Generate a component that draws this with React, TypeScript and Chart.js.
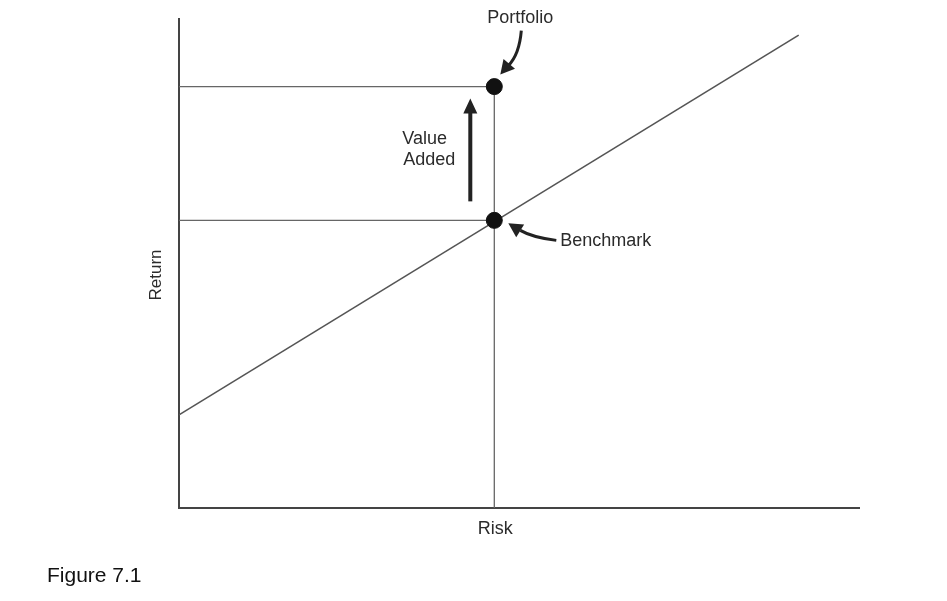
import React, { useEffect, useRef } from "react";
import { Chart, registerables } from "chart.js";

Chart.register(...registerables);

// Security market line (risk vs return)
const marketLine = [
  { x: 0, y: 1.9 },
  { x: 9.1, y: 9.65 },
];
const benchmark = { x: 4.63, y: 5.87 };
const portfolio = { x: 4.63, y: 8.6 };

const xAxisTitle = "Risk";
const yAxisTitle = "Return";
const portfolioLabel = "Portfolio";
const benchmarkLabel = "Benchmark";
const valueAddedLabel = ["Value", "Added"];
const figureCaption = "Figure 7.1";

const LINE = "#555555";
const TEXT = "#2b2b2b";

function arrowHead(ctx: CanvasRenderingContext2D, fromX: number, fromY: number, tipX: number, tipY: number, len: number, width: number) {
  const ang = Math.atan2(tipY - fromY, tipX - fromX);
  const bx = tipX - Math.cos(ang) * len;
  const by = tipY - Math.sin(ang) * len;
  const nx = -Math.sin(ang) * width / 2;
  const ny = Math.cos(ang) * width / 2;
  ctx.beginPath();
  ctx.moveTo(tipX, tipY);
  ctx.lineTo(bx + nx, by + ny);
  ctx.lineTo(bx - nx, by - ny);
  ctx.closePath();
  ctx.fill();
}

const decorations = {
  id: "decorations",
  beforeDatasetsDraw(chart: any) {
    const { ctx, scales } = chart;
    const xs = scales.x;
    const ys = scales.y;
    const x0 = xs.getPixelForValue(xs.min);
    const x1 = xs.getPixelForValue(xs.max);
    const y0 = ys.getPixelForValue(ys.min);
    const y1 = ys.getPixelForValue(ys.max);
    ctx.save();
    ctx.strokeStyle = "#444444";
    ctx.lineWidth = 2;
    ctx.beginPath();
    ctx.moveTo(x0, y1);
    ctx.lineTo(x0, y0);
    ctx.lineTo(x1, y0);
    ctx.stroke();
    ctx.restore();
  },
  afterDatasetsDraw(chart: any) {
    const { ctx, scales } = chart;
    const xs = scales.x;
    const ys = scales.y;
    const x0 = xs.getPixelForValue(xs.min);
    const y0 = ys.getPixelForValue(ys.min);
    const px = xs.getPixelForValue(portfolio.x);
    const py = ys.getPixelForValue(portfolio.y);
    const bx = xs.getPixelForValue(benchmark.x);
    const by = ys.getPixelForValue(benchmark.y);

    ctx.save();
    ctx.fillStyle = TEXT;
    ctx.font = "18px 'Liberation Sans', Arial, sans-serif";
    ctx.textBaseline = "middle";

    // Axis titles
    ctx.textAlign = "center";
    ctx.fillText(xAxisTitle, px + 1, y0 + 21);
    ctx.save();
    ctx.translate(x0 - 23, (ys.top + y0) / 2 + 12);
    ctx.rotate(-Math.PI / 2);
    ctx.font = "17px 'Liberation Sans', Arial, sans-serif";
    ctx.fillText(yAxisTitle, 0, 0);
    ctx.restore();

    // Portfolio label + curved arrow
    ctx.fillText(portfolioLabel, px + 26, py - 69);
    ctx.strokeStyle = "#222222";
    ctx.fillStyle = "#222222";
    ctx.lineWidth = 3;
    ctx.beginPath();
    ctx.moveTo(px + 27, py - 56);
    ctx.quadraticCurveTo(px + 25, py - 32, px + 14, py - 21);
    ctx.stroke();
    arrowHead(ctx, px + 16, py - 24, px + 6, py - 12, 14, 15);

    // Benchmark label + curved arrow
    ctx.fillStyle = TEXT;
    ctx.textAlign = "left";
    ctx.fillText(benchmarkLabel, bx + 66, by + 21);
    ctx.strokeStyle = "#222222";
    ctx.fillStyle = "#222222";
    ctx.beginPath();
    ctx.moveTo(bx + 62, by + 20);
    ctx.quadraticCurveTo(bx + 38, by + 17, bx + 26, by + 10);
    ctx.stroke();
    arrowHead(ctx, bx + 30, by + 13, bx + 14, by + 3, 14, 15);

    // Value added arrow
    const ax = bx - 24;
    ctx.lineWidth = 4;
    ctx.beginPath();
    ctx.moveTo(ax, by - 19);
    ctx.lineTo(ax, py + 24);
    ctx.stroke();
    arrowHead(ctx, ax, py + 40, ax, py + 12, 15, 14);

    ctx.fillStyle = TEXT;
    ctx.textAlign = "left";
    ctx.fillText(valueAddedLabel[0], ax - 68, py + 52);
    ctx.fillText(valueAddedLabel[1], ax - 67, py + 73);

    // Caption
    ctx.fillStyle = "#111111";
    ctx.font = "21px 'Liberation Sans', Arial, sans-serif";
    ctx.fillText(figureCaption, 47, 576);
    ctx.restore();
  },
};

export default function App() {
  const ref = useRef<HTMLCanvasElement>(null);
  useEffect(() => {
    document.body.style.margin = "0";
    const canvas = ref.current!;
    const chart = new Chart(canvas, {
      type: "line",
      data: {
        datasets: [
          {
            type: "scatter",
            data: [portfolio, benchmark],
            backgroundColor: "#111111",
            borderColor: "#111111",
            pointRadius: 8,
            pointHoverRadius: 8,
            order: 0,
          } as any,
          {
            data: marketLine,
            borderColor: LINE,
            borderWidth: 1.6,
            pointRadius: 0,
            order: 1,
          },
          {
            data: [{ x: 0, y: portfolio.y }, portfolio],
            borderColor: "#666666",
            borderWidth: 1.3,
            pointRadius: 0,
            order: 1,
          },
          {
            data: [{ x: 0, y: benchmark.y }, benchmark],
            borderColor: "#666666",
            borderWidth: 1.3,
            pointRadius: 0,
            order: 1,
          },
          {
            data: [{ x: benchmark.x, y: 0 }, portfolio],
            borderColor: "#666666",
            borderWidth: 1.3,
            pointRadius: 0,
            order: 1,
          },
        ],
      },
      options: {
        responsive: false,
        animation: false,
        events: [],
        layout: { padding: { left: 179, top: 18, right: 87, bottom: 93 } },
        plugins: { legend: { display: false }, tooltip: { enabled: false } },
        scales: {
          x: { type: "linear", min: 0, max: 10, display: false },
          y: { type: "linear", min: 0, max: 10, display: false },
        },
      },
      plugins: [decorations],
    });
    return () => chart.destroy();
  }, []);
  return (
    <div style={{ width: 947, height: 601, background: "#fff" }}>
      <canvas ref={ref} width={947} height={601} />
    </div>
  );
}
